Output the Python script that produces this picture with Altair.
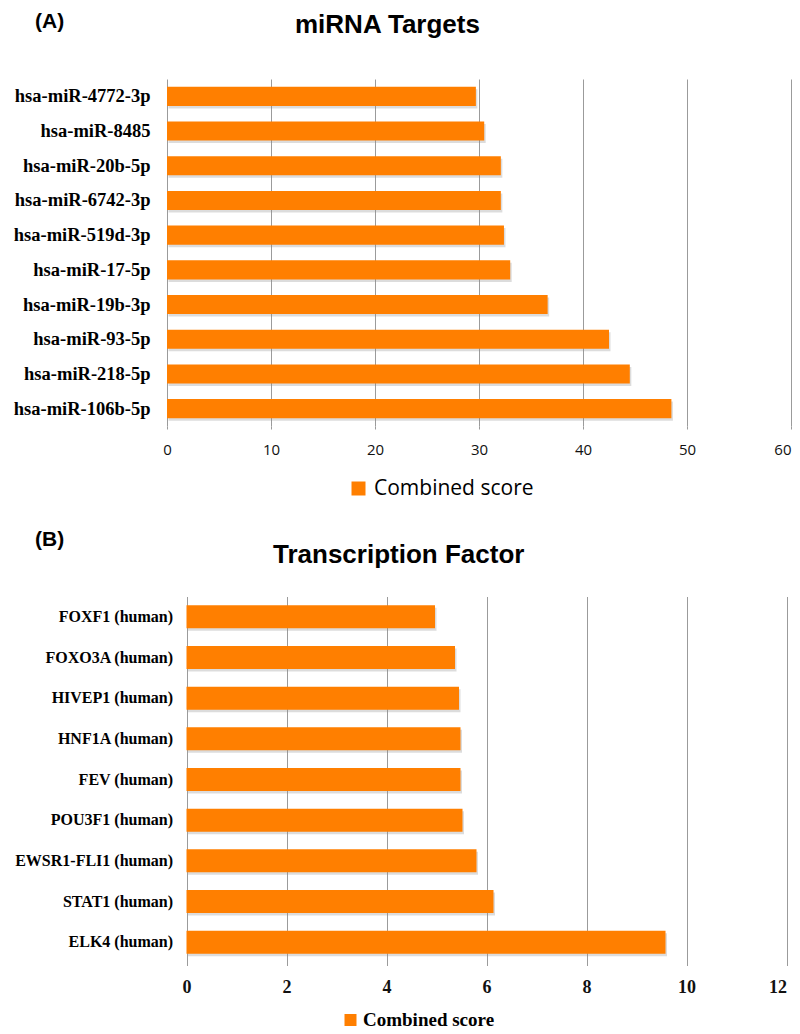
import altair as alt
import pandas as pd

# ---------------- data ----------------
mirna_labels = [
    "hsa-miR-4772-3p", "hsa-miR-8485", "hsa-miR-20b-5p", "hsa-miR-6742-3p",
    "hsa-miR-519d-3p", "hsa-miR-17-5p", "hsa-miR-19b-3p", "hsa-miR-93-5p",
    "hsa-miR-218-5p", "hsa-miR-106b-5p",
]
mirna_scores = [29.7, 30.5, 32.1, 32.1, 32.4, 33.0, 36.6, 42.5, 44.5, 48.5]
mirna_ticks = [0, 10, 20, 30, 40, 50, 60]

tf_labels = [
    "FOXF1 (human)", "FOXO3A (human)", "HIVEP1 (human)", "HNF1A (human)",
    "FEV (human)", "POU3F1 (human)", "EWSR1-FLI1 (human)", "STAT1 (human)",
    "ELK4 (human)",
]
tf_scores = [4.97, 5.37, 5.45, 5.48, 5.48, 5.52, 5.80, 6.14, 9.58]
tf_ticks = [0, 2, 4, 6, 8, 10, 12]

series_name = "Combined score"
title_a = "miRNA Targets"
title_b = "Transcription Factor"
tag_a = "(A)"
tag_b = "(B)"

ORANGE = "#FF7F00"
GRID = "#9b9b9b"
PANEL_W = 783

dfA = pd.DataFrame({"label": mirna_labels, "score": mirna_scores, "series": series_name})
dfB = pd.DataFrame({"label": tf_labels, "score": tf_scores, "series": series_name})


def panel(df, labels, ticks, domain_max, x_range, height, pad_inner,
          ylab_font_size, ylab_pad, xlab_font, xlab_size, xlab_weight, xlab_pad,
          leg_x, leg_y, leg_sym, leg_font, leg_size, leg_weight, leg_offset,
          title_text, title_x, title_y, tag_text, tag_y):
    last_align = {"condition": {"test": f"datum.value >= {domain_max}", "value": "right"},
                  "value": "center"}
    x_enc = alt.X(
        "score:Q",
        scale=alt.Scale(domain=[0, domain_max], range=x_range, nice=False),
        axis=alt.Axis(values=ticks, grid=True, gridColor=GRID, gridWidth=1,
                      domain=False, ticks=True, tickSize=3, tickColor=GRID,
                      labelFlush=False, labelOverlap=False, labelAlign=last_align,
                      labelFont=xlab_font, labelFontSize=xlab_size,
                      labelFontWeight=xlab_weight, labelColor="#111111",
                      labelPadding=xlab_pad, title=None),
    )
    y_enc = alt.Y(
        "label:N", sort=labels,
        scale=alt.Scale(paddingInner=pad_inner, paddingOuter=pad_inner / 2),
        axis=alt.Axis(offset=-x_range[0], domain=False, ticks=False, grid=False,
                      labelFont="Liberation Serif", labelFontWeight="bold",
                      labelFontSize=ylab_font_size, labelColor="#000000",
                      labelPadding=ylab_pad, labelLimit=400, title=None),
    )
    base = alt.Chart(df)
    shadow = base.mark_bar(color="#8a8a8a", opacity=0.3, xOffset=1.5, yOffset=2.5).encode(
        x=x_enc, y=y_enc)
    bars = base.mark_bar().encode(
        x=x_enc, y=y_enc,
        color=alt.Color(
            "series:N",
            scale=alt.Scale(range=[ORANGE]),
            legend=alt.Legend(orient="none", legendX=leg_x, legendY=leg_y, title=None,
                              symbolType="square", symbolSize=leg_sym,
                              symbolStrokeWidth=0, labelFont=leg_font,
                              labelFontSize=leg_size, labelFontWeight=leg_weight,
                              labelColor="#000000", labelOffset=leg_offset, padding=0),
        ),
    )
    title = alt.Chart(pd.DataFrame({"t": [title_text]})).mark_text(
        font="Liberation Sans", fontSize=26, fontWeight="bold", align="left",
        baseline="alphabetic", color="#000000",
    ).encode(x=alt.value(title_x), y=alt.value(title_y), text="t:N")
    tag = alt.Chart(pd.DataFrame({"t": [tag_text]})).mark_text(
        font="Liberation Sans", fontSize=21, fontWeight="bold", align="left",
        baseline="middle", color="#000000",
    ).encode(x=alt.value(27), y=alt.value(tag_y), text="t:N")
    return alt.layer(shadow, bars, title, tag).properties(width=PANEL_W, height=height)


chartA = panel(dfA, mirna_labels, mirna_ticks, 60, [159, 783], 347, 0.45,
               18.5, 17, "Open Sans", 15, "normal", 13,
               340, 399, 196, "Open Sans", 21, "normal", 5,
               title_a, 287, -46.5, tag_a, -57)

chartB = panel(dfB, tf_labels, tf_ticks, 12, [178.5, 778.5], 366, 0.435,
               16, 14, "Liberation Serif", 18, "bold", 13,
               333, 414, 144, "Liberation Serif", 19, "bold", 3,
               title_b, 265, -34, tag_b, -57)

chart = alt.vconcat(chartA, chartB, spacing=170.5, bounds="flush").resolve_scale(
    color="independent", x="independent", y="independent"
).resolve_legend(color="independent").properties(
    padding={"left": 0, "top": 3, "right": 0, "bottom": 0}
).configure_view(stroke=None)

chart.save("out.html", embed_options={"renderer": "svg", "actions": False})
